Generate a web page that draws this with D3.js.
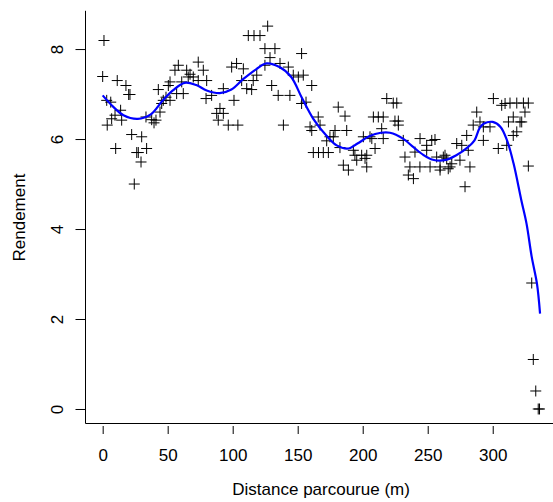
<!DOCTYPE html>
<html>
<head>
<meta charset="utf-8">
<script src="https://cdn.jsdelivr.net/npm/d3@7/dist/d3.min.js"></script>
<style>
	body { margin: 0; background: #fff; }
	text { font-family: "Liberation Sans", Arial, sans-serif; font-size: 17px; fill: #000; }
</style>
</head>
<body>
<div id="chart"></div>
<script>
/**
 * Rendement en fonction de la distance parcourue, avec courbe lissée.
 */

// Points mesurés (distance en m, rendement)
const distance = [
	1, 0, 11.2, 17.9, 20, 21, 3.1, 6.2, 13.8, 9.5, 6.9, 3.5, 14.6, 22.3, 30, 33.3, 37.7, 41, 39.5, 44.1,
	42.8, 50.5, 46.6, 48.7, 45.4, 51.8, 56.9, 62, 58.2, 55.6, 64.6, 73.5, 77.4, 65.8, 69.7, 73.5, 80, 60.8, 51.8, 79.5,
	83.8, 92.8, 90.2, 87.7, 92.8, 88.9, 96.6, 104, 99.2, 103, 101, 67.2, 10, 33.8, 26.2, 27.4, 29.5, 24.3,
	126.9, 112, 116.4, 121, 124.8, 132.5, 153, 128.7, 108.2, 124.8, 136.4, 142.8, 146.6, 150.5, 154.3, 118.5, 115.8, 106.9, 160.8, 130,
	110.8, 114.6, 135, 144, 153, 156.4, 181.2, 186.4, 165.8, 139, 159.5, 167.2, 178.7, 187.7, 208.2, 212, 215.8, 218.5, 214.6, 174.8,
	177.4, 200.5, 205.6, 160.8, 172.3, 162, 166, 169.7, 173.6, 182.5, 192.8, 207, 215.8, 209.5, 194, 199.2, 203.1, 195.4, 201.8, 203.1,
	185.1, 189, 223.5, 226.2, 224.8, 227.4, 227.4, 231.2, 244.1, 253.1, 255.6, 249.2, 240.2, 249.2, 232.5, 256.9, 262, 264.6, 268.5, 236.3,
	244, 251.8, 259.5, 267.2, 274.8, 282.5, 259.5, 265.8, 235.1, 239, 272.3, 280, 281.2, 287.7, 285, 290.2, 292.8, 297.9, 292.8, 300.5,
	306.9, 309.5, 313.3, 318.5, 323.6, 327.4, 324.8, 315.8, 312.1, 321, 322.3, 318.5, 315.8, 310.8, 304.3, 278.7, 327.4, 263.3, 276.2,
	330, 331.2, 333.1, 335, 336
];
const rendement = [
	8.19, 7.39, 7.30, 7.19, 6.99, 6.99, 6.86, 6.82, 6.64, 6.53, 6.45, 6.31, 6.42, 6.10, 6.05, 6.49, 6.43, 6.42, 6.36, 6.60,
	7.10, 7.19, 6.86, 6.93, 6.79, 6.86, 7.01, 7.01, 7.64, 7.53, 7.53, 7.71, 7.53, 7.38, 7.38, 7.30, 7.30, 7.27, 7.27, 6.90,
	6.97, 7.12, 6.68, 6.57, 6.57, 6.42, 6.31, 6.31, 7.60, 7.68, 6.86, 7.44, 5.79, 5.79, 5.70, 5.70, 5.49, 5.00,
	8.51, 8.30, 8.30, 8.30, 8.01, 8.01, 7.90, 7.81, 7.56, 7.64, 7.68, 7.60, 7.42, 7.38, 7.42, 7.42, 7.30, 7.30, 7.19, 7.19,
	7.12, 7.10, 6.97, 6.97, 6.79, 6.82, 6.71, 6.51, 6.49, 6.31, 6.27, 6.31, 6.19, 6.19, 6.49, 6.49, 6.49, 6.90, 6.23, 6.05,
	6.05, 6.05, 6.05, 6.19, 5.96, 5.70, 5.70, 5.70, 5.70, 5.81, 5.75, 6.01, 6.01, 5.79, 5.64, 5.64, 5.64, 5.53, 5.57, 5.38,
	5.42, 5.31, 6.80, 6.80, 6.40, 6.40, 6.31, 5.97, 6.01, 5.97, 5.99, 5.86, 5.71, 5.75, 5.60, 5.60, 5.60, 5.56, 5.45, 5.38,
	5.38, 5.38, 5.38, 5.38, 5.53, 5.38, 5.31, 5.34, 5.20, 5.12, 5.90, 6.08, 5.75, 6.60, 6.31, 6.38, 6.27, 6.27, 5.97, 6.90,
	6.75, 6.79, 6.80, 6.80, 6.80, 6.80, 6.60, 6.49, 6.38, 6.38, 6.38, 6.16, 6.08, 5.86, 5.79, 4.94, 5.40, 5.64, 5.86,
	2.80, 1.10, 0.40, 0.00, 0.00
];

// Courbe lissée
const lisseX = [0, 8, 16, 27, 37, 46, 54, 63, 72, 80, 90, 99, 108, 118, 126, 136, 145, 153, 162, 172,
	180, 189, 196, 205, 214, 221, 231, 239, 247, 254, 263, 272, 281, 286, 290, 293, 300, 306, 311, 316,
	322, 326, 330, 334, 336.4];
const lisseY = [6.97, 6.72, 6.53, 6.45, 6.55, 6.85, 7.08, 7.25, 7.20, 7.08, 7.02, 7.10, 7.33, 7.55, 7.68, 7.60, 7.38, 6.93, 6.45, 6.08,
	5.86, 5.79, 5.90, 6.06, 6.14, 6.14, 6.01, 5.82, 5.64, 5.54, 5.53, 5.64, 5.82, 5.97, 6.25, 6.34, 6.38, 6.27, 5.97, 5.46,
	4.64, 4.12, 3.38, 2.79, 2.12];

const xTicks = [0, 50, 100, 150, 200, 250, 300];
const yTicks = [0, 2, 4, 6, 8];

(function (d3) {
	"use strict";
	const width = 553, height = 502;
	const svg = d3.select("#chart").append("svg")
		.attr("width", width)
		.attr("height", height);

	// étendue des données + 4% comme dans R
	function etendue(values) {
		const ext = d3.extent(values);
		const pad = (ext[1] - ext[0]) * 0.04;
		return [ext[0] - pad, ext[1] + pad];
	}

	const x = d3.scaleLinear().domain(etendue(distance)).range([85.2, 557]);
	const y = d3.scaleLinear().domain(etendue(rendement)).range([424.3, 10.8]);

	// cadre en L
	svg.append("path")
		.attr("d", "M85.5," + y.range()[1] + "V423.5H" + width)
		.attr("fill", "none")
		.attr("stroke", "#000")
		.attr("stroke-width", 1);

	// axe Y
	const yAxis = svg.append("g")
		.attr("transform", "translate(85.5,0)")
		.call(d3.axisLeft(y).tickValues(yTicks).tickSize(10));
	yAxis.select(".domain").remove();
	yAxis.selectAll(".tick line").attr("stroke", "#000");
	yAxis.selectAll(".tick text")
		.attr("x", 0).attr("y", -22.5).attr("dy", null)
		.attr("transform", "rotate(-90)")
		.attr("text-anchor", "middle")
		.style("font-size", "17px")
		.style("font-family", "'Liberation Sans', Arial, sans-serif");

	// axe X
	const xAxis = svg.append("g")
		.attr("transform", "translate(0,426)")
		.call(d3.axisBottom(x).tickValues(xTicks).tickSize(8));
	xAxis.select(".domain").remove();
	xAxis.selectAll(".tick line").attr("stroke", "#000");
	xAxis.selectAll(".tick text")
		.attr("y", 34.5).attr("dy", null)
		.style("font-size", "17px")
		.style("font-family", "'Liberation Sans', Arial, sans-serif");

	// titres des axes
	svg.append("text")
		.attr("x", (x.range()[0] + x.range()[1]) / 2)
		.attr("y", 495)
		.attr("text-anchor", "middle")
		.text("Distance parcourue (m)");
	svg.append("text")
		.attr("transform", "translate(25," + (y.range()[0] + y.range()[1]) / 2 + ") rotate(-90)")
		.attr("text-anchor", "middle")
		.text("Rendement");

	// points (pch = 3)
	const s = 5.5;
	svg.append("g")
		.selectAll("path")
		.data(d3.range(distance.length))
		.enter()
		.append("path")
		.attr("d", i => {
			const px = x(distance[i]), py = y(rendement[i]);
			return "M" + (px - s) + "," + py + "H" + (px + s) + "M" + px + "," + (py - s) + "V" + (py + s);
		})
		.attr("stroke", "#000")
		.attr("stroke-width", 1)
		.attr("fill", "none");

	// courbe lissée
	const line = d3.line()
		.x(i => x(lisseX[i]))
		.y(i => y(lisseY[i]))
		.curve(d3.curveCatmullRom.alpha(0.5));
	svg.append("path")
		.datum(d3.range(lisseX.length))
		.attr("d", line)
		.attr("fill", "none")
		.attr("stroke", "#0000ff")
		.attr("stroke-width", 2.2);

})(d3);
</script>
</body>
</html>
